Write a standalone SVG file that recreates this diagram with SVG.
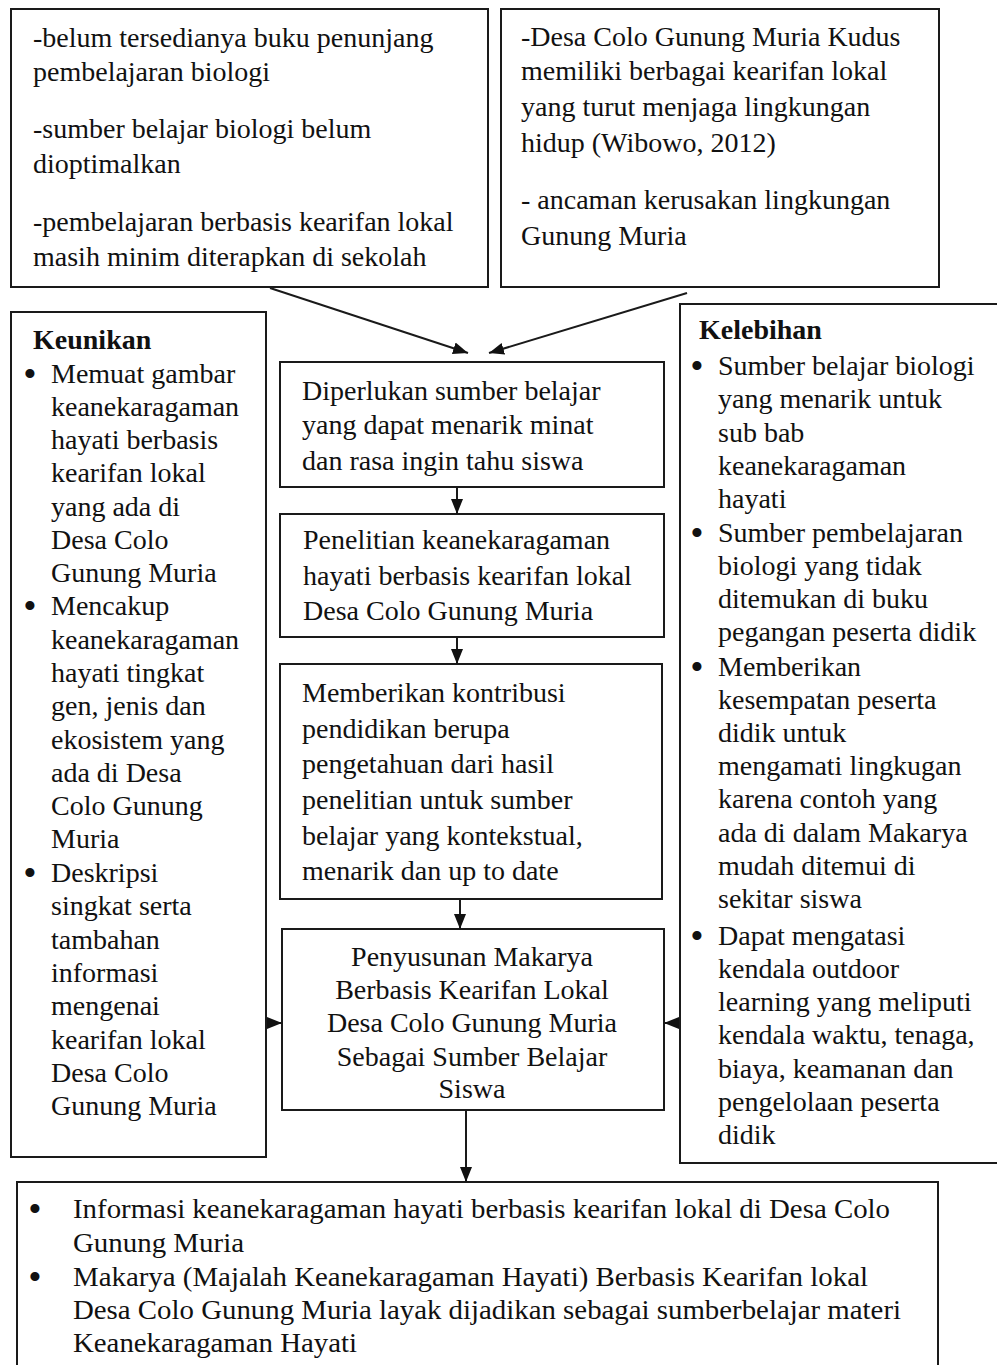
<svg xmlns="http://www.w3.org/2000/svg" width="997" height="1365" viewBox="0 0 997 1365">
<style>
.box{fill:#fff;stroke:#1a1a1a;stroke-width:2}
.t{font-family:"Liberation Serif","Times New Roman",serif;font-size:28px;fill:#111}
.b{font-weight:bold}
.c{text-anchor:middle}
.bu{font-family:"Liberation Serif","Times New Roman",serif;font-size:38px;fill:#111;text-anchor:middle}
.ln{stroke:#1a1a1a;stroke-width:2;fill:none}
</style>
<defs>
<marker id="ah" markerUnits="userSpaceOnUse" markerWidth="16" markerHeight="14" refX="15" refY="7" orient="auto">
<path d="M0,1 L15,7 L0,13 Z" fill="#111"/>
</marker>
</defs>
<rect width="997" height="1365" fill="#fff"/>

<g id="box-masalah">
<rect class="box" x="11" y="9" width="477" height="278"/>
<text class="t"><tspan x="33" y="47">-belum tersedianya buku penunjang</tspan><tspan x="33" y="81">pembelajaran biologi</tspan><tspan x="33" y="138">-sumber belajar biologi belum</tspan><tspan x="33" y="173">dioptimalkan</tspan><tspan x="33" y="231">-pembelajaran berbasis kearifan lokal</tspan><tspan x="33" y="266">masih minim diterapkan di sekolah</tspan></text>
</g>

<g id="box-potensi">
<rect class="box" x="501" y="9" width="438" height="278"/>
<text class="t"><tspan x="521" y="46">-Desa Colo Gunung Muria Kudus</tspan><tspan x="521" y="80">memiliki berbagai kearifan lokal</tspan><tspan x="521" y="116">yang turut menjaga lingkungan</tspan><tspan x="521" y="152">hidup (Wibowo, 2012)</tspan><tspan x="521" y="209">- ancaman kerusakan lingkungan</tspan><tspan x="521" y="245">Gunung Muria</tspan></text>
</g>

<g id="box-keunikan">
<rect class="box" x="11" y="312" width="255" height="845"/>
<text class="t b" x="33" y="349">Keunikan</text>
<text class="bu"><tspan x="30" y="387">•</tspan><tspan x="30" y="619">•</tspan><tspan x="30" y="886">•</tspan></text>
<text class="t"><tspan x="51" y="383">Memuat gambar</tspan><tspan x="51" y="416">keanekaragaman</tspan><tspan x="51" y="449">hayati berbasis</tspan><tspan x="51" y="482">kearifan lokal</tspan><tspan x="51" y="516">yang ada di</tspan><tspan x="51" y="549">Desa Colo</tspan><tspan x="51" y="582">Gunung Muria</tspan><tspan x="51" y="615">Mencakup</tspan><tspan x="51" y="649">keanekaragaman</tspan><tspan x="51" y="682">hayati tingkat</tspan><tspan x="51" y="715">gen, jenis dan</tspan><tspan x="51" y="749">ekosistem yang</tspan><tspan x="51" y="782">ada di Desa</tspan><tspan x="51" y="815">Colo Gunung</tspan><tspan x="51" y="848">Muria</tspan><tspan x="51" y="882">Deskripsi</tspan><tspan x="51" y="915">singkat serta</tspan><tspan x="51" y="949">tambahan</tspan><tspan x="51" y="982">informasi</tspan><tspan x="51" y="1015">mengenai</tspan><tspan x="51" y="1049">kearifan lokal</tspan><tspan x="51" y="1082">Desa Colo</tspan><tspan x="51" y="1115">Gunung Muria</tspan></text>
</g>

<g id="box-kelebihan">
<rect class="box" x="680" y="304" width="330" height="859"/>
<text class="t b" x="699" y="339">Kelebihan</text>
<text class="bu"><tspan x="697" y="379">•</tspan><tspan x="697" y="546">•</tspan><tspan x="697" y="680">•</tspan><tspan x="697" y="949">•</tspan></text>
<text class="t"><tspan x="718" y="375">Sumber belajar biologi</tspan><tspan x="718" y="408">yang menarik untuk</tspan><tspan x="718" y="442">sub bab</tspan><tspan x="718" y="475">keanekaragaman</tspan><tspan x="718" y="508">hayati</tspan><tspan x="718" y="542">Sumber pembelajaran</tspan><tspan x="718" y="575">biologi yang tidak</tspan><tspan x="718" y="608">ditemukan di buku</tspan><tspan x="718" y="641">pegangan peserta didik</tspan><tspan x="718" y="676">Memberikan</tspan><tspan x="718" y="709">kesempatan peserta</tspan><tspan x="718" y="742">didik untuk</tspan><tspan x="718" y="775">mengamati lingkugan</tspan><tspan x="718" y="808">karena contoh yang</tspan><tspan x="718" y="842">ada di dalam Makarya</tspan><tspan x="718" y="875">mudah ditemui di</tspan><tspan x="718" y="908">sekitar siswa</tspan><tspan x="718" y="945">Dapat mengatasi</tspan><tspan x="718" y="978">kendala outdoor</tspan><tspan x="718" y="1011">learning yang meliputi</tspan><tspan x="718" y="1044">kendala waktu, tenaga,</tspan><tspan x="718" y="1078">biaya, keamanan dan</tspan><tspan x="718" y="1111">pengelolaan peserta</tspan><tspan x="718" y="1144">didik</tspan></text>
</g>

<g id="box-diperlukan">
<rect class="box" x="280" y="362" width="384" height="125"/>
<text class="t"><tspan x="302" y="400">Diperlukan sumber belajar</tspan><tspan x="302" y="434">yang dapat menarik minat</tspan><tspan x="302" y="470">dan rasa ingin tahu siswa</tspan></text>
</g>

<g id="box-penelitian">
<rect class="box" x="280" y="514" width="384" height="123"/>
<text class="t"><tspan x="303" y="549">Penelitian keanekaragaman</tspan><tspan x="303" y="585">hayati berbasis kearifan lokal</tspan><tspan x="303" y="620">Desa Colo Gunung Muria</tspan></text>
</g>

<g id="box-kontribusi">
<rect class="box" x="280" y="664" width="382" height="235"/>
<text class="t"><tspan x="302" y="702">Memberikan kontribusi</tspan><tspan x="302" y="738">pendidikan berupa</tspan><tspan x="302" y="773">pengetahuan dari hasil</tspan><tspan x="302" y="809">penelitian untuk sumber</tspan><tspan x="302" y="845">belajar yang kontekstual,</tspan><tspan x="302" y="880">menarik dan up to date</tspan></text>
</g>

<g id="box-penyusunan">
<rect class="box" x="282" y="929" width="382" height="181"/>
<text class="t c"><tspan x="472" y="966">Penyusunan Makarya</tspan><tspan x="472" y="999">Berbasis Kearifan Lokal</tspan><tspan x="472" y="1032">Desa Colo Gunung Muria</tspan><tspan x="472" y="1066">Sebagai Sumber Belajar</tspan><tspan x="472" y="1098">Siswa</tspan></text>
</g>

<g id="box-hasil">
<rect class="box" x="17" y="1182" width="921" height="220"/>
<text class="bu"><tspan x="35" y="1222">•</tspan><tspan x="35" y="1290">•</tspan></text>
<text class="t"><tspan x="73" y="1218" textLength="817" lengthAdjust="spacingAndGlyphs">Informasi keanekaragaman hayati berbasis kearifan lokal di Desa Colo</tspan></text>
<text class="t"><tspan x="73" y="1252" textLength="171" lengthAdjust="spacingAndGlyphs">Gunung Muria</tspan></text>
<text class="t"><tspan x="73" y="1286" textLength="795" lengthAdjust="spacingAndGlyphs">Makarya (Majalah Keanekaragaman Hayati) Berbasis Kearifan lokal</tspan></text>
<text class="t"><tspan x="73" y="1319" textLength="828" lengthAdjust="spacingAndGlyphs">Desa Colo Gunung Muria layak dijadikan sebagai sumberbelajar materi</tspan></text>
<text class="t"><tspan x="73" y="1352" textLength="284" lengthAdjust="spacingAndGlyphs">Keanekaragaman Hayati</tspan></text>
</g>

<g id="connectors">
<line class="ln" x1="270" y1="288" x2="468" y2="353" marker-end="url(#ah)"/>
<line class="ln" x1="687" y1="293" x2="489" y2="353" marker-end="url(#ah)"/>
<line class="ln" x1="457" y1="487" x2="457" y2="514" marker-end="url(#ah)"/>
<line class="ln" x1="457" y1="637" x2="457" y2="664" marker-end="url(#ah)"/>
<line class="ln" x1="460" y1="899" x2="460" y2="929" marker-end="url(#ah)"/>
<line class="ln" x1="466" y1="1110" x2="466" y2="1182" marker-end="url(#ah)"/>
<line class="ln" x1="266" y1="1023" x2="282" y2="1023" marker-end="url(#ah)"/>
<line class="ln" x1="680" y1="1023" x2="664" y2="1023" marker-end="url(#ah)"/>
</g>
</svg>
